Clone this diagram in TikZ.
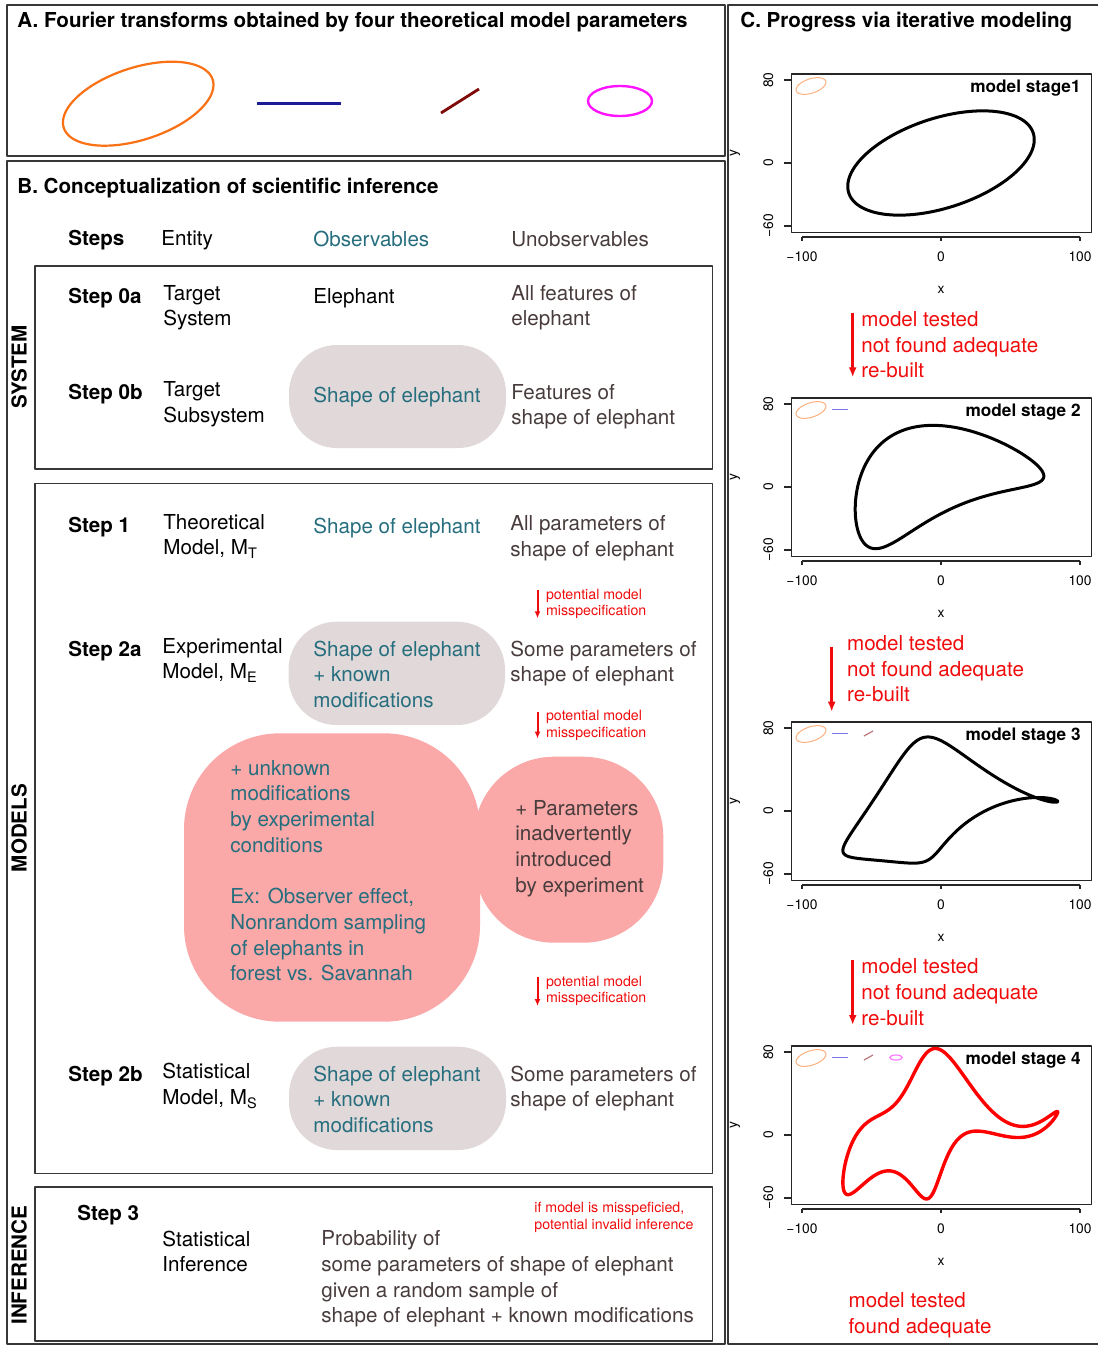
\documentclass[tikz,border=0pt]{standalone}
\usepackage{fontspec}
\setmainfont{TeX Gyre Heros}
\usetikzlibrary{arrows.meta}

\definecolor{obsteal}{RGB}{38,110,126}
\definecolor{unobsbrown}{RGB}{72,60,60}
\definecolor{pillgray}{RGB}{225,217,217}
\definecolor{blobpink}{RGB}{250,168,168}
\definecolor{framegray}{RGB}{55,55,55}
\definecolor{warnred}{RGB}{240,12,12}
\definecolor{ftorange}{RGB}{250,112,20}
\definecolor{ftblue}{RGB}{28,28,150}
\definecolor{ftred}{RGB}{128,10,10}
\definecolor{ftmagenta}{RGB}{255,20,255}
\definecolor{lgblue}{RGB}{120,120,230}

\newcommand{\fs}{\fontsize{10.3}{12.85}\selectfont}
\newcommand{\fsmall}{\fontsize{7.1}{8.35}\selectfont}
\newcommand{\ftick}{\fontsize{6.9}{8}\selectfont}
\newcommand{\fstage}{\fontsize{8.6}{10}\selectfont\bfseries}

\tikzset{
  txt/.style={anchor=north west, inner sep=0pt, align=left, font=\fs, execute at begin node=\strut},
  stepname/.style={txt, font=\fs\bfseries},
  obs/.style={txt, text=obsteal},
  unobs/.style={txt, text=unobsbrown},
  warn/.style={anchor=north west, inner sep=0pt, align=left, font=\fsmall, text=warnred, execute at begin node=\strut},
  sidelabel/.style={rotate=90, inner sep=0pt, font=\fs\bfseries},
  panel/.style={draw=framegray, line width=1pt},
  innerbox/.style={draw=framegray, line width=0.75pt},
  pill/.style={fill=pillgray, rounded corners=24pt},
  blob/.style={fill=blobpink},
  warnarrow/.style={draw=warnred, line width=1pt, -{Latex[length=3.5pt,width=3pt]}},
  redoarrow/.style={draw=warnred, line width=1.4pt, -{Latex[length=5pt,width=4pt]}},
  ticklbl/.style={inner sep=0pt, font=\ftick},
  plotline/.style={line width=0.6pt, draw=black!85},
}

\begin{document}
\begin{tikzpicture}[x=0.5pt, y=-0.5pt, line join=round]
  \useasboundingbox (0,0) rectangle (1098,1345);

  % Panel frames
  \draw[panel] (7,5) rectangle (724.5,156);
  \draw[panel] (7,161) rectangle (724.5,1344);
  \draw[panel] (728,5) rectangle (1101,1344);

  % Panel A
  \node[stepname] (titleA) at (17,9.3) {A. Fourier transforms obtained by four theoretical model parameters};
  \draw[ftorange, line width=1.1pt] plot[variable=\t, domain=0:360, samples=120]
    ({138.2+1.122*(-60*cos(\t)-30*sin(\t))},{103.7-0.84*(-50*sin(\t))}) -- cycle;
  \draw[ftblue, line width=1.4pt] (257,103.5) -- (341,103.5);
  \draw[ftred, line width=1.4pt] (441,113) -- (479,89);
  \draw[ftmagenta, line width=1.2pt] (620,101) ellipse [x radius=32, y radius=15];

  % Panel B
  \node[stepname] (titleB) at (17,175.3) {B. Conceptualization of scientific inference};
  \node[stepname] (hdSteps) at (68,227) {Steps};
  \node[txt] (hdEntity) at (161,227) {Entity};
  \node[obs] (hdObs) at (313,228) {Observables};
  \node[unobs] (hdUnobs) at (511,228) {Unobservables};

  % System block
  \draw[innerbox] (35,266) rectangle (712.5,469);
  \node[sidelabel] (sysLbl) at (19,367) {SYSTEM};
  \fill[pill] (289,345) rectangle (506,448);
  \node[stepname] (st0a) at (68,284.7) {Step 0a};
  \node[txt] (ent0a) at (163,284.7) {Target\\System};
  \node[txt] (obs0a) at (313,284.7) {Elephant};
  \node[unobs] (un0a) at (511,284.7) {All features of\\elephant};
  \node[stepname] (st0b) at (68,381.3) {Step 0b};
  \node[txt] (ent0b) at (163,381.3) {Target\\Subsystem};
  \node[obs] (obs0b) at (313,383.7) {Shape of elephant};
  \node[unobs] (un0b) at (511,383.7) {Features of\\shape of elephant};

  % Models block
  \draw[innerbox] (35,483.5) rectangle (712.5,1173.3);
  \node[sidelabel] (modLbl) at (19,828) {MODELS};
  \fill[pill] (288.5,621.7) rectangle (505,725);
  \fill[pill] (289,1046.7) rectangle (506,1150);
  \fill[blob, rounded corners=48pt] (184,733.3) rectangle (480,1021.7);
  \fill[blob, rounded corners=40pt] (474,756.7) rectangle (663.3,942.7);

  \node[stepname] (st1) at (68,513.7) {Step 1};
  \node[txt] (ent1) at (163,513.7) {Theoretical\\Model, M\textsubscript{T}};
  \node[obs] (obs1) at (313,515.3) {Shape of elephant};
  \node[unobs] (un1) at (510,515.3) {All parameters of\\shape of elephant};

  \node[stepname] (st2a) at (68,637.7) {Step 2a};
  \node[txt] (ent2a) at (162,637.7) {Experimental\\Model, M\textsubscript{E}};
  \node[obs] (obs2a) at (313,640.3) {Shape of elephant\\+ known\\modifications};
  \node[unobs] (un2a) at (510,640.3) {Some parameters of\\shape of elephant};

  \node[obs] (unknownMods) at (230,759.7) {+ unknown\\modifications\\by experimental\\conditions\\[12.85pt]Ex: Observer effect,\\Nonrandom sampling\\of elephants in\\forest vs. Savannah};
  \node[unobs] (extraParams) at (515,799.7) {+ Parameters\\inadvertently\\introduced\\by experiment};

  \node[stepname] (st2b) at (68,1062.7) {Step 2b};
  \node[txt] (ent2b) at (162,1062.7) {Statistical\\Model, M\textsubscript{S}};
  \node[obs] (obs2b) at (313,1065.3) {Shape of elephant\\+ known\\modifications};
  \node[unobs] (un2b) at (510,1065.3) {Some parameters of\\shape of elephant};

  % Misspecification warnings
  \foreach \i/\ya/\yb in {1/590/618.3, 2/711.7/738.5, 3/977/1006} {
    \coordinate (mis\i top) at (537.5,\ya);
    \coordinate (mis\i bot) at (537.5,\yb);
    \draw[warnarrow] (mis\i top) -- (mis\i bot);
    \node[warn] (mis\i) at (545.7,\ya-1.7) {potential model\\misspecification};
  }

  % Inference block
  \draw[innerbox] (35,1187) rectangle (712.5,1341);
  \node[sidelabel] (infLbl) at (19,1265) {INFERENCE};
  \node[stepname] (st3) at (77,1202) {Step 3};
  \node[txt] (ent3) at (162,1230.3) {Statistical\\Inference};
  \node[unobs] (un3) at (321,1230.3) {Probability of\\some parameters of shape of elephant\\given a random sample of\\shape of elephant + known modifications};
  \node[warn] (invalid) at (534,1201.6) {if model is misspeficied,\\potential invalid inference};

  % Panel C
  \node[stepname] (titleC) at (740,9.3) {C. Progress via iterative modeling};

  \foreach \k/\lbl/\ctwo/\cthree/\cfour/\col/\lw in {0/model stage1/0/0/0/black/1.5pt, 1/model stage 2/1/0/0/black/1.5pt, 2/model stage 3/1/1/0/black/1.5pt, 3/model stage 4/1/1/1/red/1.7pt} {
    \pgfmathsetmacro\off{324*\k}
    \begin{scope}[shift={(0,\off)}]
      % axes
      \draw[plotline] (791.5,74) rectangle (1091.7,232.3);
      \draw[plotline] (802,237) -- (1080,237);
      \foreach \xp/\xl in {802/−100, 941/0, 1080/100} {
        \draw[plotline] (\xp,237) -- (\xp,241);
        \node[ticklbl, anchor=base] (xt\k-\xp) at (\xp,261.7) {\xl};
      }
      \foreach \yp/\yl in {80/80, 163/0, 226/−60} {
        \draw[plotline] (791.5,\yp) -- (784,\yp);
        \node[ticklbl, anchor=base, rotate=90] (yt\k-\yp) at (773,\yp) {\yl};
      }
      \node[ticklbl, anchor=base] (xname\k) at (941,293.3) {x};
      \node[ticklbl, anchor=base, rotate=90] (yname\k) at (737,153) {y};
      \node[inner sep=0pt, anchor=base east, font=\fstage] (stage\k) at (1081,92.7) {\lbl};
      % legend of parameters in use
      \draw[ftorange!55, line width=0.5pt] plot[variable=\t, domain=0:360, samples=60]
        ({811+0.16*1.39*(-60*cos(\t)-30*sin(\t))},{86-0.16*1.043*(-50*sin(\t))}) -- cycle;
      \ifnum\k>0 \draw[lgblue, line width=0.6pt] (832,85.3) -- (848,85.3); \fi
      \ifnum\k>1 \draw[ftred!55, line width=0.6pt] (864,88) -- (873,83); \fi
      \ifnum\k>2 \draw[ftmagenta!55, line width=0.6pt] (896,85.5) ellipse [x radius=6.3, y radius=2.5]; \fi
      % reconstructed outline
      \draw[\col, line width=\lw] plot[variable=\t, domain=0:360, samples=241]
        ({941+1.39*(-60*cos(\t)-30*sin(\t)+\ctwo*8*sin(2*\t)-\cthree*10*sin(3*\t))},
         {163-1.043*(-50*sin(\t)-\ctwo*18*sin(2*\t)-\cthree*12*cos(3*\t)+\cfour*14*cos(5*\t))}) -- cycle;
    \end{scope}
  }

  % Iteration arrows
  \coordinate (re1top) at (852.7,312.7);  \coordinate (re1bot) at (852.7,377.3);
  \coordinate (re2top) at (831.7,646.7);  \coordinate (re2bot) at (831.7,711.7);
  \coordinate (re3top) at (852.7,960);    \coordinate (re3bot) at (852.7,1025);
  \draw[redoarrow] (re1top) -- (re1bot);
  \draw[redoarrow] (re2top) -- (re2bot);
  \draw[redoarrow] (re3top) -- (re3bot);
  \node[txt, text=warnred] (rebuilt1) at (861,311) {model tested\\not found adequate\\re-built};
  \node[txt, text=warnred] (rebuilt2) at (846.7,635) {model tested\\not found adequate\\re-built};
  \node[txt, text=warnred] (rebuilt3) at (861,958.5) {model tested\\not found adequate\\re-built};
  \node[txt, text=warnred] (adequate) at (848.3,1292.5) {model tested\\found adequate};

\end{tikzpicture}
\end{document}
